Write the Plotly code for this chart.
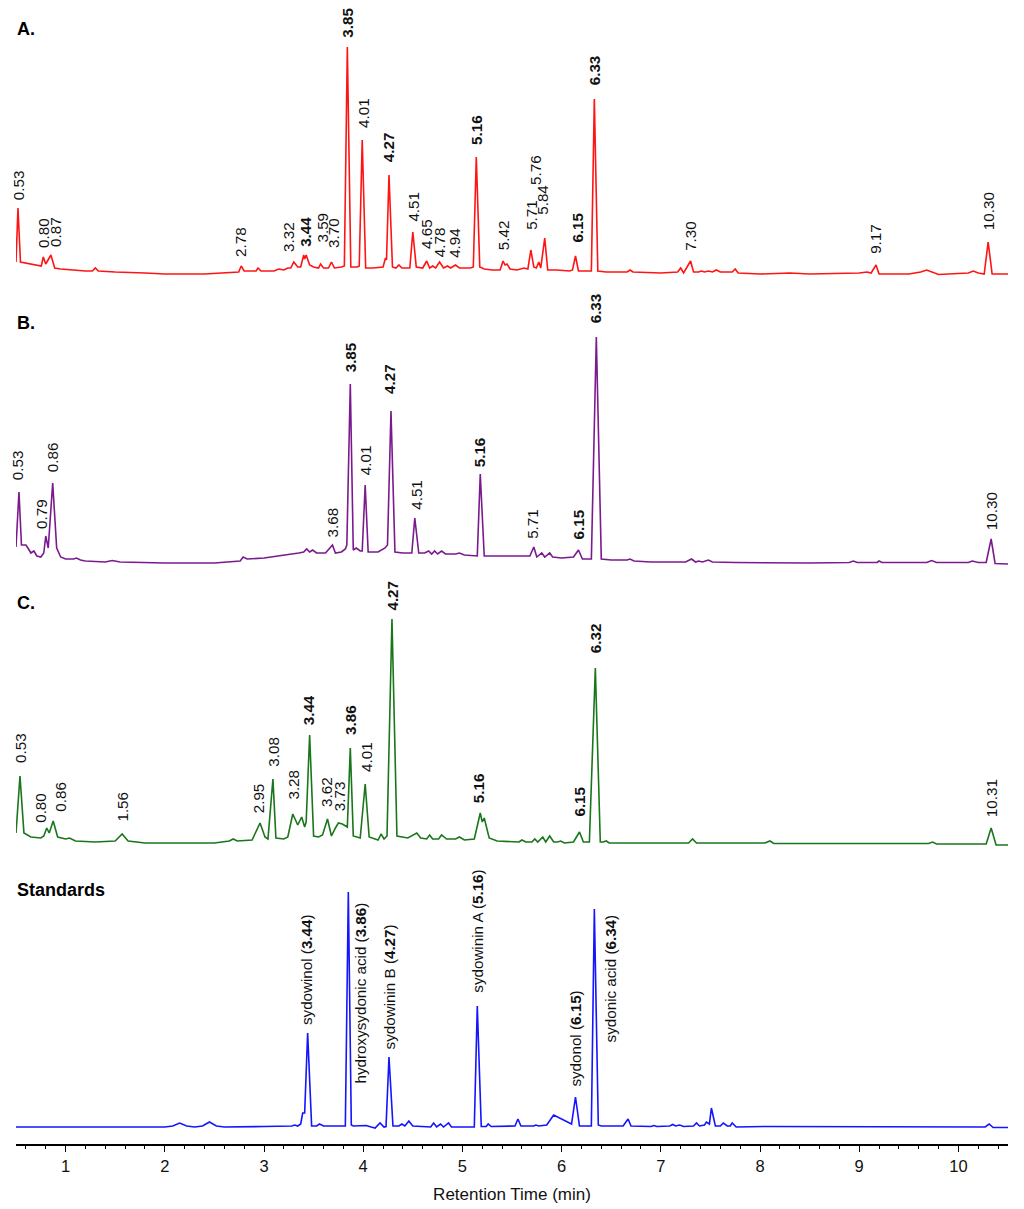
import plotly.graph_objects as go

# ---------------- data (retention time in min, detector signal in arbitrary units) ----------------
a_time = [0.50, 0.52, 0.545, 0.60, 0.65, 0.70, 0.755, 0.775, 0.80, 0.852, 0.89, 0.95, 1.05, 1.20, 1.27, 1.30, 1.33,
          1.50, 1.80, 2.00, 2.40, 2.60, 2.745, 2.77, 2.80, 2.92, 2.94, 2.97, 3.10, 3.15, 3.20, 3.24, 3.27,
          3.30, 3.34, 3.37, 3.40, 3.41, 3.425, 3.46, 3.50, 3.55, 3.57, 3.60, 3.65, 3.68, 3.71, 3.78, 3.81,
          3.84, 3.875, 3.94, 3.96, 3.99, 4.025, 4.10, 4.20, 4.225, 4.235, 4.26, 4.295, 4.33, 4.36, 4.39, 4.47,
          4.50, 4.535, 4.60, 4.64, 4.67, 4.70, 4.73, 4.77, 4.81, 4.85, 4.88, 4.93, 4.97, 5.08, 5.11,
          5.14, 5.175, 5.22, 5.30, 5.38, 5.41, 5.43, 5.45, 5.48, 5.55, 5.62, 5.66,
          5.69, 5.72, 5.745, 5.77, 5.79, 5.83, 5.86, 5.95, 6.08, 6.11, 6.14, 6.17, 6.28, 6.30,
          6.33, 6.365, 6.45, 6.60, 6.66, 6.69, 6.72, 7.00, 7.17, 7.20, 7.23, 7.30, 7.33, 7.38, 7.41, 7.44,
          7.48, 7.52, 7.56, 7.60, 7.72, 7.75, 7.78, 8.00, 8.30, 8.50, 8.90, 9.00, 9.08, 9.12,
          9.17, 9.20, 9.50, 9.62, 9.68, 9.75, 9.80, 10.10, 10.15, 10.20, 10.26, 10.30, 10.34, 10.50]
a_signal = [13, 67, 13, 12, 11, 10, 9, 18, 11, 20, 7, 6, 5, 4, 4, 7, 4,
            3, 2, 1, 1, 2, 3, 9, 4, 4, 7, 4, 4, 6, 5, 7, 7,
            13, 8, 8, 20, 16, 20, 10, 8, 7, 11, 7, 7, 13, 7, 8, 9,
            228, 8, 8, 9, 135, 7, 7, 8, 17, 15, 100, 8, 7, 10, 7, 7,
            43, 8, 7, 14, 7, 9, 7, 13, 7, 9, 7, 10, 7, 7, 8,
            118, 8, 6, 5, 5, 14, 10, 11, 6, 5, 7, 6,
            25, 8, 7, 13, 7, 37, 5, 5, 4, 5, 19, 4, 4, 4,
            176, 4, 3, 3, 3, 5, 3, 2, 3, 7, 2, 14, 3, 3, 4, 3,
            4, 3, 5, 3, 3, 6, 2, 1, 2, 1, 2, 2, 3, 2,
            10, 1, 1, 3, 5, 2, 0.5, 2, 4, 2, 1, 33, 1, 1]

b_time = [0.50, 0.53, 0.555, 0.60, 0.62, 0.65, 0.68, 0.71, 0.75, 0.78, 0.80, 0.825, 0.87, 0.91, 0.95, 1.00,
          1.08, 1.11, 1.15, 1.20, 1.40, 1.47, 1.55, 2.00, 2.50, 2.69, 2.76, 2.79, 2.83, 3.00, 3.23, 3.35,
          3.40, 3.43, 3.46, 3.49, 3.53, 3.62, 3.69, 3.72, 3.78, 3.82, 3.835, 3.87, 3.90, 3.93, 3.97, 3.99,
          4.02, 4.05, 4.15, 4.22, 4.245, 4.28, 4.32, 4.40, 4.49, 4.52, 4.56, 4.62, 4.66, 4.69, 4.72, 4.75, 4.79,
          4.83, 4.93, 4.97, 5.02, 5.12, 5.15, 5.18, 5.22, 5.50, 5.60, 5.68, 5.72, 5.75, 5.80, 5.83, 5.88, 5.91,
          6.00, 6.12, 6.17, 6.21, 6.30, 6.35, 6.40, 6.50, 6.66, 6.69, 6.73, 6.90, 7.25, 7.31, 7.35, 7.38,
          7.42, 7.48, 7.52, 7.75, 8.50, 8.90, 8.94, 8.98, 9.18, 9.20, 9.23, 9.68, 9.73, 9.78, 10.10, 10.14,
          10.20, 10.28, 10.33, 10.37, 10.50]
b_signal = [16, 71, 18, 18, 15, 10, 12, 7, 6, 10, 27, 15, 80, 15, 6, 4,
            4, 5, 3, 2, 1, 2.5, 1, 0, 0, 1, 2, 6, 4, 5, 8, 10,
            11, 14, 11, 13, 10, 10, 18, 10, 11, 14, 18, 179, 13, 15, 12, 12,
            78, 11, 11, 15, 18, 152, 11, 10, 10, 45, 10, 10, 12, 9, 12, 9, 12,
            9, 9, 10, 8, 7, 7, 89, 7, 7, 7, 7, 16, 6, 10, 6, 10, 6,
            5, 6, 13, 4, 4, 226, 4, 3, 3, 4, 2, 1, 1, 4, 1, 2,
            1, 3, 1, 0.5, 0, 0.5, 2, 0.5, 0.5, 2, 0.5, 0.5, 2.5, 0.5, 0.5, 2,
            0.5, 0.5, 24, -0.5, -1]

c_time = [0.50, 0.54, 0.58, 0.65, 0.75, 0.78, 0.81, 0.835, 0.875, 0.92, 1.00, 1.04, 1.10, 1.30, 1.50, 1.57,
          1.63, 1.80, 2.20, 2.50, 2.65, 2.69, 2.73, 2.88, 2.96, 3.01, 3.04, 3.09, 3.12, 3.20, 3.24,
          3.29, 3.34, 3.38, 3.41, 3.425, 3.46, 3.50, 3.55, 3.59, 3.64, 3.68, 3.72, 3.75, 3.79, 3.82, 3.84,
          3.87, 3.90, 3.97, 4.02, 4.06, 4.10, 4.15, 4.18, 4.21, 4.24, 4.29, 4.34, 4.45, 4.54, 4.58,
          4.64, 4.67, 4.70, 4.76, 4.79, 4.84, 4.93, 4.97, 5.02, 5.12, 5.18, 5.20, 5.22, 5.27, 5.35,
          5.50, 5.57, 5.60, 5.64, 5.70, 5.73, 5.76, 5.81, 5.84, 5.88, 5.92, 5.96, 5.99, 6.03, 6.12,
          6.18, 6.22, 6.28, 6.34, 6.39, 6.42, 6.45, 6.48, 7.00, 7.28, 7.32, 7.36, 8.05, 8.10, 8.14,
          9.50, 9.70, 9.74, 9.78, 10.28, 10.33, 10.38, 10.50]
c_signal = [11, 68, 11, 7, 6, 8, 16, 11, 23, 7, 5, 6, 3, 2, 3, 10,
            3, 1, 1, 1, 3, 5, 3, 4, 21, 7, 5, 65, 6, 5, 7,
            30, 19, 27, 17, 22, 109, 8, 7, 9, 25, 8, 16, 21, 20, 18, 17,
            96, 8, 6, 60, 7, 6, 4, 10, 5, 8, 225, 8, 6, 11, 6,
            5, 9, 5, 5, 9, 5, 5, 7, 4, 5, 31, 22, 26, 6, 3,
            2, 2, 4, 2, 2, 5, 2, 7, 2, 8, 2, 2, 3, 1, 2,
            12, 2, 2, 176, 2, 2, 3, 1, 1, 1, 5, 1, 1, 3, 0.5,
            0, 0.5, 2, 0, 0, 16, -1, -1]

s_time = [0.50, 2.00, 2.08, 2.15, 2.22, 2.30, 2.38, 2.45, 2.52, 2.60, 3.00, 3.28, 3.31, 3.34, 3.37, 3.39,
          3.41, 3.44, 3.48, 3.53, 3.56, 3.60, 3.80, 3.82, 3.85, 3.88, 3.90, 4.03, 4.08, 4.12, 4.17, 4.21, 4.23,
          4.26, 4.30, 4.36, 4.39, 4.42, 4.46, 4.50, 4.68, 4.71, 4.74, 4.78, 4.81, 4.86, 4.89, 5.10, 5.12,
          5.15, 5.19, 5.24, 5.26, 5.29, 5.50, 5.53, 5.56, 5.59, 5.72, 5.74, 5.77, 5.85, 5.92, 5.98, 6.05,
          6.10, 6.14, 6.18, 6.29, 6.30, 6.33, 6.37, 6.40, 6.62, 6.67, 6.70, 6.90, 6.93, 6.96, 7.09, 7.12,
          7.15, 7.19, 7.23, 7.33, 7.36, 7.39, 7.44, 7.46, 7.49, 7.51, 7.55, 7.60, 7.63, 7.67, 7.70, 7.72,
          7.76, 8.05, 9.00, 10.00, 10.27, 10.31, 10.35, 10.50]
s_signal = [0, 0, 1, 4, 1, 0, 1, 5, 1, 0, 0.5, 1, 2, 1, 3, 14,
            14, 94, 1, 1, 3, 1, 1, 1, 235, 2, 1, 1.5, 0, -1, 4, 0, 0.5,
            70, 1, 1, 3, 1, 6, 1, 0, 4, 0, 3, 0, 4, 0, 0, 0,
            121, 0.5, 0.5, 3, 0.5, 1, 1, 8, 1, 1, 2, 1, 2, 12, 9, 5,
            3, 30, 1, 1, 1, 218, 2, 1, 1, 8, 1, 0.5, 1.5, 0.5, 1, 2.5,
            1, 2, 0.5, 1, 4, 1, 2, 5, 3, 19, 1, 1, 4, 1, 1, 4,
            0, 0.5, 0, 0, 0, 3, -0.5, -0.5]

x_ticks = [1, 2, 3, 4, 5, 6, 7, 8, 9, 10]

# ---------------- peak labels: (text, x, bottom of label in signal units, bold) ----------------
a_labels = [("0.53", 0.522, 75, False), ("0.80", 0.771, 27, False), ("0.87", 0.892, 28, False),
            ("2.78", 2.757, 18, False), ("3.32", 3.241, 23, False), ("3.44", 3.412, 28, True),
            ("3.59", 3.58, 32, False), ("3.70", 3.695, 27, False), ("3.85", 3.843, 237, True),
            ("4.01", 3.997, 147, False), ("4.27", 4.252, 113, True), ("4.51", 4.498, 53, False),
            ("4.65", 4.632, 26, False), ("4.78", 4.766, 18, False), ("4.94", 4.914, 17, False),
            ("5.16", 5.136, 130, True), ("5.42", 5.411, 25, False), ("5.71", 5.69, 45, False),
            ("5.76", 5.731, 90, False), ("5.84", 5.80, 60, False), ("6.15", 6.151, 32, True),
            ("6.33", 6.329, 190, True), ("7.30", 7.293, 24, False), ("9.17", 9.158, 21, False),
            ("10.30", 10.30, 45, False)]
b_labels = [("0.53", 0.522, 83, False), ("0.79", 0.751, 34, False), ("0.86", 0.875, 91, False),
            ("3.68", 3.69, 26, False), ("3.85", 3.88, 191, True), ("4.01", 4.03, 88, False),
            ("4.27", 4.27, 169, True), ("4.51", 4.54, 53, False), ("5.16", 5.18, 96, True),
            ("5.71", 5.70, 24, False), ("6.15", 6.17, 24, True), ("6.33", 6.35, 240, True),
            ("10.30", 10.33, 33, False)]
c_labels = [("0.53", 0.54, 81, False), ("0.80", 0.74, 21, False), ("0.86", 0.94, 32, False),
            ("1.56", 1.564, 22, False), ("2.95", 2.942, 31, False), ("3.08", 3.087, 77, False),
            ("3.28", 3.288, 44, False), ("3.44", 3.446, 119, True), ("3.62", 3.624, 37, False),
            ("3.73", 3.758, 33, False), ("3.86", 3.866, 109, True), ("4.01", 4.027, 72, False),
            ("4.27", 4.286, 233, True), ("5.16", 5.159, 41, True), ("6.15", 6.171, 27, True),
            ("6.32", 6.339, 191, True), ("10.31", 10.33, 27, False)]
s_labels = [("sydowinol (<b>3.44</b>)", 3.429, 102, False),
            ("hydroxysydonic acid (<b>3.86</b>)", 3.977, 44, False),
            ("sydowinin B (<b>4.27</b>)", 4.269, 78, False),
            ("sydowinin A (<b>5.16</b>)", 5.149, 134, False),
            ("sydonol (<b>6.15</b>)", 6.131, 40, False),
            ("sydonic acid (<b>6.34</b>)", 6.497, 85, False)]

# ---------------- layout geometry (page has an 8px body margin) ----------------
PAGE_OFF = 8
W, H = 1008, 1201
PLOT_TOP, PLOT_BOT = 8, 1144        # absolute page px of plot area
ML, MR = 8, 8
MT = PLOT_TOP - PAGE_OFF
MB = H - (PLOT_BOT - PAGE_OFF)
PH = PLOT_BOT - PLOT_TOP
FONT = "Arial, 'Liberation Sans', sans-serif"
LABEL_SIZE = 15.2


def frac(y_abs):
    return (PLOT_BOT - y_abs) / PH


# (axis, top px, bottom px, baseline reference px, colour, title, title centre px, data, labels)
panels = [
    ("y", 8, 290, 275, "#FF1414", "A.", 28.5, a_time, a_signal, a_labels),
    ("y2", 290, 580, 563, "#7B1A8E", "B.", 322.5, b_time, b_signal, b_labels),
    ("y3", 580, 860, 844, "#1A761A", "C.", 602.5, c_time, c_signal, c_labels),
    ("y4", 860, 1144, 1127, "#1414FF", "Standards", 890, s_time, s_signal, s_labels),
]

fig = go.Figure()
annotations = []
layout_axes = {}
for i, (yname, top, bot, ref, col, title, tcy, t, s, labels) in enumerate(panels):
    fig.add_trace(go.Scatter(x=t, y=s, mode="lines", xaxis="x", yaxis=yname,
                             line=dict(color=col, width=1.6), hoverinfo="skip", showlegend=False))
    key = "yaxis" if i == 0 else "yaxis%d" % (i + 1)
    layout_axes[key] = dict(domain=[frac(bot), frac(top)], range=[ref - bot, ref - top],
                            visible=False, fixedrange=True)
    for text, lx, ly, bold in labels:
        annotations.append(dict(x=lx, y=ly, xref="x", yref=yname, text=("<b>%s</b>" % text) if bold else text,
                                showarrow=False, textangle=-90, xanchor="center", yanchor="bottom",
                                borderpad=0, borderwidth=0,
                                font=dict(family=FONT, size=LABEL_SIZE, color="#111111")))
    annotations.append(dict(x=0, y=frac(tcy), xref="paper", yref="paper", text="<b>%s</b>" % title,
                            showarrow=False, xanchor="left", yanchor="middle", borderpad=0,
                            font=dict(family=FONT, size=18, color="#000000")))

fig.update_layout(
    width=W, height=H, margin=dict(l=ML, r=MR, t=MT, b=MB, autoexpand=False),
    paper_bgcolor="white", plot_bgcolor="white",
    font=dict(family=FONT, color="#111111"),
    annotations=annotations,
    xaxis=dict(range=[0.5, 10.5], anchor="y4", tickvals=x_ticks, ticks="outside", ticklen=6, tickwidth=1.3,
               tickcolor="#000", showline=True, linecolor="#000", linewidth=1.5, showgrid=False,
               zeroline=False, tickfont=dict(size=16.5, family=FONT, color="#111"),
               minor=dict(dtick=0.2, tick0=0, ticks="outside", ticklen=3.5, tickwidth=1.2, tickcolor="#000",
                          showgrid=False),
               title=dict(text="Retention Time (min)", font=dict(size=17, family=FONT, color="#111"),
                          standoff=15),
               automargin=False, fixedrange=True),
    **layout_axes,
)

fig.write_html("out.html")
